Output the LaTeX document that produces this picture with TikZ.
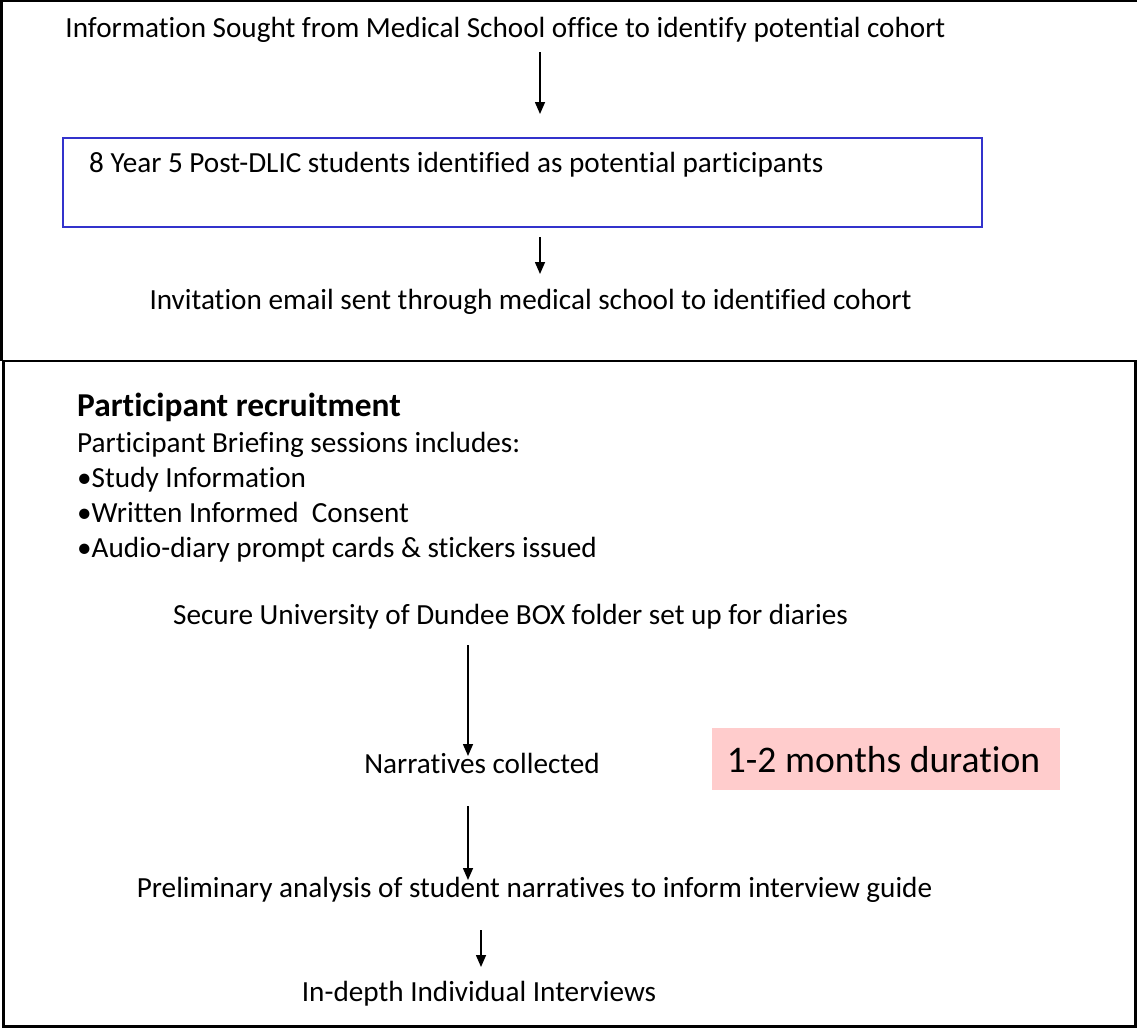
\documentclass[tikz,border=0pt]{standalone}
\usepackage{fontspec}
\setmainfont{Carlito}[Ligatures={NoCommon,NoContextual}]
\usetikzlibrary{arrows.meta}
\definecolor{boxblue}{RGB}{51,51,204}
\definecolor{pinkfill}{RGB}{255,204,204}
\begin{document}
\begin{tikzpicture}[x=1pt,y=-1pt,
  txt/.style={font=\fontsize{29.2}{35}\selectfont, inner sep=0pt},
  bigtxt/.style={font=\fontsize{37.6}{44}\selectfont, inner sep=0pt},
  headtxt/.style={font=\bfseries\fontsize{33.4}{40}\selectfont, inner sep=0pt},
  arr/.style={line width=1.5pt, -{Triangle[width=10pt,length=12pt]}},
  frame/.style={line width=2.2pt}]
\useasboundingbox (0,0) rectangle (1137,1028);
% frames
\draw[frame] (0,1.1) -- (1137,1.1);
\draw[frame] (1.5,0) -- (1.5,361);
\draw[frame] (3.5,361) rectangle (1135.5,1026.5);
% top section
\node[txt, anchor=base] (info) at (505.5,37) {Information Sought from Medical School office to identify potential cohort};
\node[draw=boxblue, line width=1.5pt, minimum width=919pt, minimum height=89pt, inner sep=0pt] (idbox) at (522.5,182.5) {};
\node[txt, anchor=base west] (idtxt) at (89,172) {8 Year 5 Post-DLIC students identified as potential participants};
\node[txt, anchor=base] (invite) at (530.5,309) {Invitation email sent through medical school to identified cohort};
\coordinate (a1s) at (540,52);
\coordinate (a1e) at (540,114);
\coordinate (a2s) at (540,237);
\coordinate (a2e) at (540,274);
\draw[arr] (a1s) -- (a1e);
\draw[arr] (a2s) -- (a2e);
% bottom section
\node[headtxt, anchor=base west] (head) at (77,416) {Participant recruitment};
\node[txt, anchor=base west] (brief) at (77,452) {Participant Briefing sessions includes:};
\node[txt, anchor=base west] (b1) at (77,487) {•Study Information};
\node[txt, anchor=base west] (b2) at (77,522) {•Written Informed~~Consent};
\node[txt, anchor=base west] (b3) at (77,557) {•Audio-diary prompt cards \& stickers issued};
\node[txt, anchor=base] (secure) at (510.5,624) {Secure University of Dundee BOX folder set up for diaries};
\node[txt, anchor=base] (narr) at (482,773) {Narratives collected};
\node[fill=pinkfill, minimum width=348pt, minimum height=62pt, inner sep=0pt] (pink) at (886,759) {};
\node[bigtxt, anchor=base] (dur) at (883.5,772) {1-2 months duration};
\node[txt, anchor=base] (prelim) at (534.5,897) {Preliminary analysis of student narratives to inform interview guide};
\node[txt, anchor=base] (indepth) at (479,1001) {In-depth Individual Interviews};
\coordinate (a3s) at (468,645);
\coordinate (a3e) at (468,756);
\coordinate (a4s) at (468,806);
\coordinate (a4e) at (468,880);
\coordinate (a5s) at (481,930);
\coordinate (a5e) at (481,967);
\draw[arr] (a3s) -- (a3e);
\draw[arr] (a4s) -- (a4e);
\draw[arr] (a5s) -- (a5e);
\end{tikzpicture}
\end{document}
